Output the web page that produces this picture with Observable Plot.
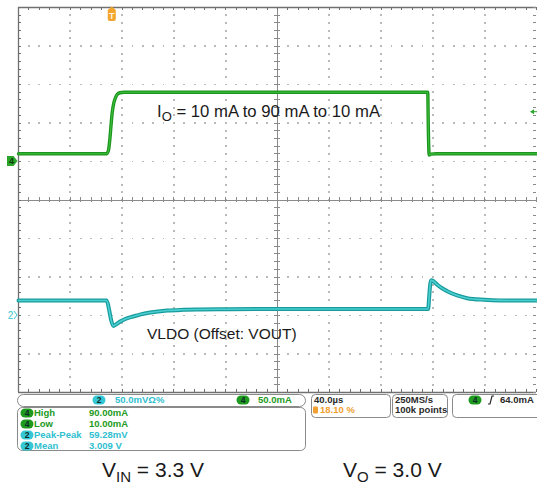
<!DOCTYPE html>
<html><head><meta charset="utf-8">
<script src="https://cdn.jsdelivr.net/npm/d3@7"></script>
<script src="https://cdn.jsdelivr.net/npm/@observablehq/plot@0.6"></script>
<style>
body{margin:0;background:#fff;}
#wrap{position:relative;width:537px;height:483px;overflow:hidden;}
#wrap svg{display:block;}
</style></head><body><div id="wrap"></div>
<script>
// ---- data (time in µs, trigger at 0) ----
const timeWindow = [-72.4, 327.6];          // 10 div x 40 µs, trigger at 18.10 %
const usPerDiv = 40;
const ch4PerDiv = 50;   // mA/div
const ch4Pos = 1;       // ground marker, div above centre
const ch2PerDiv = 50;   // mV/div
const ch2Pos = -3;      // offset marker, div
const triggerLevel = 64; // mA

const ch4Time    = [-72.4, -4.5, -3, -1.8, -0.8, 0, 1.2, 2.5, 4, 6, 9, 243.6, 244.1, 244.7, 246, 250, 327.6];
const ch4Current = [10, 10, 14, 30, 50, 64, 76, 83, 87.5, 89.3, 90, 90, 40, 8.5, 9.6, 10, 10];

const ch2Time    = [-72.4, -4.3, -2.5, -1, 0.8, 3, 6.2, 10, 16.2, 22, 29.3, 42.5, 55, 68, 90, 114, 243.9, 244.8, 245.5, 246.3, 248, 251, 255, 258.7, 266.4, 274, 287, 299.6, 327.6];
const ch2Voltage = [19.5, 19.5, 8, -5, -13.5, -11.5, -7.8, -4.5, -1.3, 1.5, 3.9, 6.5, 7.4, 7.8, 8.2, 8.4, 8.4, 26, 40, 45.8, 44.5, 40, 35, 31.6, 26, 22.5, 20.4, 19.6, 19.5];

const ioLabel = ["I", "O", " = 10 mA to 90 mA to 10 mA"];
const vldoLabel = "VLDO (Offset: VOUT)";
const vinLabel = ["V", "IN", " = 3.3 V"];
const voLabel = ["V", "O", " = 3.0 V"];

const measureChannels = ["4", "4", "2", "2"];
const measureNames = ["High", "Low", "Peak-Peak", "Mean"];
const measureValues = ["90.00mA", "10.00mA", "59.28mV", "3.009 V"];
const ch2Setting = "50.0mVΩ%";
const ch4Setting = "50.0mA";
const horizScale = "40.0µs";
const trigPosText = "18.10 %";
const sampleRate = ["250MS/s", "100k points"];
const trigText = "64.0mA";

// ---- derived tables ----
const ch4 = ch4Time.map((t, i) => ({t, v: ch4Pos + ch4Current[i] / ch4PerDiv}));
const ch2 = ch2Time.map((t, i) => ({t, v: ch2Pos + ch2Voltage[i] / ch2PerDiv}));
const t0 = timeWindow[0], t1 = timeWindow[1], tc = t0 + 5 * usPerDiv;
const minorT = d3.range(0, 51).map(i => t0 + i * usPerDiv / 5);
const minorV = d3.range(0, 51).map(i => -5 + i * 0.2);
const gridT = d3.range(1, 10).filter(i => i !== 5).map(i => t0 + i * usPerDiv);
const gridV = [-4, -3, -2, -1, 1, 2, 3, 4];
const gridDots = [
  ...gridV.flatMap(v => minorT.slice(1, -1).map(t => ({t, v}))),
  ...gridT.flatMap(t => minorV.slice(1, -1).map(v => ({t, v})))
];
const tk = 0.07, tkT = 0.07 * usPerDiv * 38.5 / 51.8;

const GREEN = "#1b951d", GREEN_IN = "#3fbf3f";
const CYAN = "#179b9c", CYAN_IN = "#4ccfd0";
const GRID = "#bababa", AX = "#8a8a8a", BORDER = "#707070";
const crisp = {shapeRendering: "crispEdges"};

const plot = Plot.plot({
  width: 537, height: 395,
  marginLeft: 18, marginRight: 1, marginTop: 7, marginBottom: 3,
  x: {domain: timeWindow, axis: null},
  y: {domain: [-5, 5], axis: null},
  style: {background: "transparent", overflow: "visible"},
  marks: [
    Plot.dot(gridDots, {x: "t", y: "v", r: 1.05, fill: GRID, stroke: "none", symbol: "square", ...crisp}),
    Plot.ruleY([0], {stroke: AX, strokeWidth: 1, ...crisp}),
    Plot.ruleX([tc], {stroke: AX, strokeWidth: 1, ...crisp}),
    Plot.ruleX(minorT, {x: d => d, y1: -tk, y2: tk, stroke: AX, ...crisp}),
    Plot.ruleY(minorV, {y: d => d, x1: tc - tkT, x2: tc + tkT, stroke: AX, ...crisp}),
    // borders
    Plot.ruleX([t0], {stroke: BORDER, strokeWidth: 1.3}),
    Plot.ruleY([5, -5], {stroke: BORDER, strokeWidth: 1.3}),
    Plot.ruleY(minorV, {y: d => d, x1: t0, x2: t0 + tkT, stroke: BORDER, ...crisp}),
    Plot.ruleY(minorV, {y: d => d, x1: t1 - tkT, x2: t1, stroke: AX, ...crisp}),
    Plot.ruleX(minorT, {x: d => d, y1: 5, y2: 5 - tk, stroke: BORDER, ...crisp}),
    Plot.ruleX(minorT, {x: d => d, y1: -5, y2: -5 + tk, stroke: BORDER, ...crisp}),
    // traces
    Plot.line(ch4, {x: "t", y: "v", stroke: GREEN, strokeWidth: 3.4, curve: "monotone-x"}),
    Plot.line(ch4, {x: "t", y: "v", stroke: GREEN_IN, strokeWidth: 1.1, curve: "monotone-x"}),
    Plot.line(ch2, {x: "t", y: "v", stroke: CYAN, strokeWidth: 4, curve: "monotone-x"}),
    Plot.line(ch2, {x: "t", y: "v", stroke: CYAN_IN, strokeWidth: 1.6, curve: "monotone-x"})
  ]
});
document.getElementById("wrap").appendChild(plot);

const X = plot.scale("x"), Y = plot.scale("y");
const ov = d3.select("#wrap").append("svg")
  .attr("width", 537).attr("height", 483)
  .style("position", "absolute").style("left", 0).style("top", 0)
  .attr("font-family", "'Liberation Sans', Arial, sans-serif");

// trigger position marker
const tx = X.apply(0);
ov.append("path").attr("d", `M${tx-4},10 L${tx},6.5 L${tx+4},10 L${tx+4},19 Q${tx+4},21 ${tx+2},21 L${tx-2},21 Q${tx-4},21 ${tx-4},19 Z`).attr("fill", "#f2a42c");
ov.append("text").attr("x", tx).attr("y", 18.5).attr("text-anchor", "middle").attr("font-size", 9).attr("font-weight", "bold").attr("fill", "#fff4dc").text("T");

// ch4 ground marker
const y4 = Y.apply(ch4Pos);
ov.append("path").attr("d", `M7,${y4-5} L13.5,${y4-5} L17.5,${y4} L13.5,${y4+5} L7,${y4+5} Z`).attr("fill", "#2aa52a");
ov.append("text").attr("x", 11.5).attr("y", y4 + 3.2).attr("text-anchor", "middle").attr("font-size", 9).attr("font-weight", "bold").attr("fill", "#0b3d0b").text("4");
// ch2 marker
const y2 = Y.apply(ch2Pos);
ov.append("text").attr("x", 10.5).attr("y", y2 + 3.6).attr("text-anchor", "middle").attr("font-size", 10).attr("fill", "#3cc8d0").text("2");
ov.append("path").attr("d", `M14,${y2-4} L17,${y2} L14,${y2+4}`).attr("fill", "none").attr("stroke", "#3cc8d0").attr("stroke-width", 1);
// trigger level arrow
const yt = Y.apply(ch4Pos + triggerLevel / ch4PerDiv);
ov.append("path").attr("d", `M530,${yt} L534,${yt-2.5} L534,${yt+2.5} Z`).attr("fill", "#2aa52a");
ov.append("line").attr("x1", 534).attr("x2", 537).attr("y1", yt).attr("y2", yt).attr("stroke", "#2aa52a");

// annotations
function subText(x, y, parts, size, subSize, subDy) {
  const t = ov.append("text").attr("x", x).attr("y", y).attr("font-size", size).attr("fill", "#1a1a1a");
  t.append("tspan").text(parts[0]);
  t.append("tspan").attr("font-size", subSize).attr("dy", subDy).text(parts[1]);
  t.append("tspan").attr("dy", -subDy).text(parts[2]);
}
subText(157, 116.5, ioLabel, 16.7, 13, 4);
ov.append("text").attr("x", 147).attr("y", 339).attr("font-size", 15.5).attr("fill", "#1a1a1a").text(vldoLabel);
subText(102, 477, vinLabel, 21, 15, 4.5);
subText(343, 477, voLabel, 21, 15, 4.5);

// info panel
const BOX = "#8a8a8a", DARK = "#2a2a2a", G = "#239a23", C = "#2fc0cf", OR = "#f0a030";
const MONO = "'Liberation Sans', Arial, sans-serif";
function box(x, y, w, h, r) {
  ov.append("rect").attr("x", x + 0.5).attr("y", y + 0.5).attr("width", w).attr("height", h).attr("rx", r).attr("fill", "#fff").attr("stroke", BOX).attr("stroke-width", 1);
}
function badge(cx, cy, col, label) {
  ov.append("rect").attr("x", cx - 6.5).attr("y", cy - 4.5).attr("width", 13).attr("height", 9).attr("rx", 4.5).attr("fill", col);
  ov.append("text").attr("x", cx).attr("y", cy + 3.2).attr("text-anchor", "middle").attr("font-size", 8.5).attr("font-weight", "bold").attr("fill", "#0d2a2a").text(label);
}
function label(x, y, s, col) {
  ov.append("text").attr("x", x).attr("y", y + 3.4).attr("font-size", 9.5).attr("font-family", MONO).attr("font-weight", "bold").attr("fill", col).text(s);
}
box(17, 394, 288, 12, 6);
badge(99, 400, "#35c8d4", "2"); label(115, 400, ch2Setting, C);
badge(243, 400, "#1e9a1e", "4"); label(258, 400, ch4Setting, G);
box(17, 407, 288, 43, 5);
measureNames.forEach((n, i) => {
  const cy = 413 + i * 11, ch = measureChannels[i];
  const col = ch === "4" ? G : C;
  badge(27, cy, ch === "4" ? "#1e9a1e" : "#35c8d4", ch);
  label(34, cy, n, col);
  label(89, cy, measureValues[i], col);
});
box(311, 394, 79, 23, 4);
label(314, 400, horizScale, DARK);
ov.append("rect").attr("x", 313).attr("y", 406.5).attr("width", 5).attr("height", 7).attr("rx", 1).attr("fill", OR);
label(320, 410, trigPosText, OR);
box(392, 394, 55, 23, 4);
label(395, 400, sampleRate[0], DARK);
label(395, 410, sampleRate[1], DARK);
box(452, 394, 95, 23, 4);
badge(475, 400, "#1e9a1e", "4");
ov.append("path").attr("d", "M488,404 L490,404 L492,396 L494,396").attr("fill", "none").attr("stroke", DARK).attr("stroke-width", 1.2);
label(500, 400, trigText, DARK);
</script></body></html>
